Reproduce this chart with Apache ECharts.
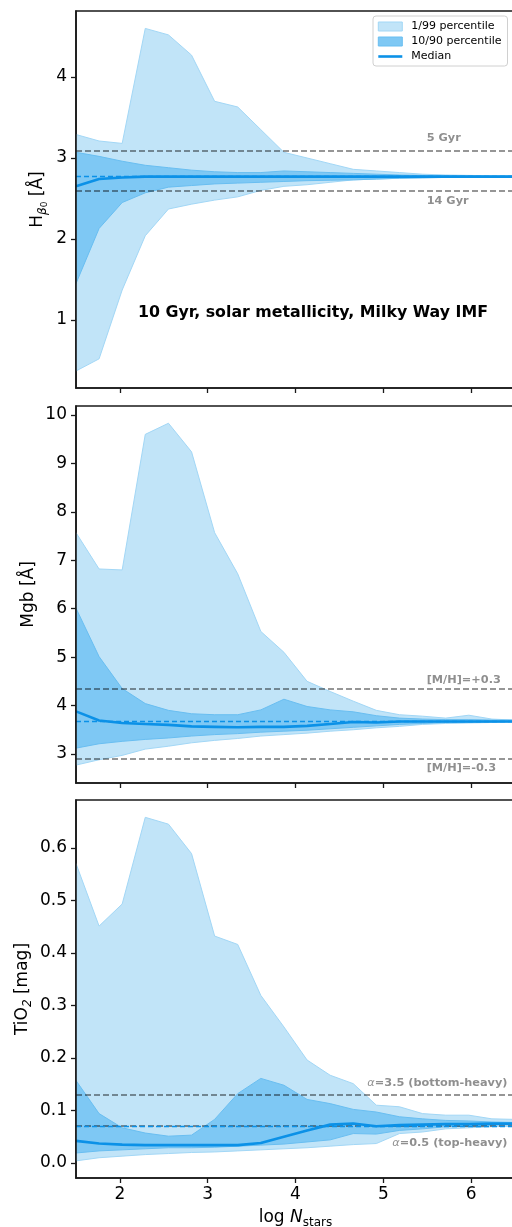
<!DOCTYPE html>
<html>
<head>
<meta charset="utf-8">
<script src="https://cdn.jsdelivr.net/npm/echarts@6/dist/echarts.min.js"></script>
<style>
html,body{margin:0;padding:0;background:#fff;}
#chart{width:512px;height:1227px;}
</style>
</head>
<body>
<div id="chart"></div>
<script>
// Sampling in log N_stars
const logN = [1.500, 1.763, 2.026, 2.289, 2.553, 2.816, 3.079, 3.342, 3.605, 3.868,
              4.132, 4.395, 4.658, 4.921, 5.184, 5.447, 5.711, 5.974, 6.237, 6.500];
const xTicks = [2, 3, 4, 5, 6];

// H-beta_0 index [Angstrom]
const hbP1  = [0.37, 0.52, 1.37, 2.04, 2.37, 2.43, 2.48, 2.52, 2.60, 2.65, 2.67, 2.70, 2.73, 2.74, 2.75, 2.755, 2.76, 2.765, 2.77, 2.77];
const hbP99 = [3.29, 3.21, 3.18, 4.60, 4.52, 4.27, 3.70, 3.63, 3.35, 3.07, 3.00, 2.93, 2.86, 2.84, 2.82, 2.80, 2.79, 2.785, 2.78, 2.78];
const hbP10 = [1.45, 2.13, 2.45, 2.57, 2.64, 2.66, 2.68, 2.69, 2.70, 2.71, 2.72, 2.725, 2.73, 2.74, 2.75, 2.755, 2.76, 2.765, 2.765, 2.77];
const hbP90 = [3.07, 3.02, 2.96, 2.91, 2.88, 2.85, 2.83, 2.82, 2.82, 2.84, 2.83, 2.82, 2.81, 2.80, 2.79, 2.785, 2.78, 2.78, 2.775, 2.775];
const hbMed = [2.65, 2.74, 2.76, 2.77, 2.77, 2.77, 2.77, 2.77, 2.77, 2.77, 2.77, 2.77, 2.77, 2.77, 2.77, 2.77, 2.77, 2.77, 2.77, 2.77];
const hbRef = 2.77;
const hbLines = [3.09, 2.605];
const hbLineLabels = ['5 Gyr', '14 Gyr'];
const hbTicks = [1, 2, 3, 4];

// Mgb index [Angstrom]
const mgbP1  = [2.77, 2.88, 2.97, 3.10, 3.16, 3.23, 3.28, 3.32, 3.37, 3.40, 3.43, 3.47, 3.50, 3.54, 3.57, 3.61, 3.63, 3.64, 3.65, 3.66];
const mgbP99 = [7.57, 6.82, 6.80, 9.60, 9.83, 9.24, 7.57, 6.72, 5.53, 5.10, 4.50, 4.29, 4.09, 3.90, 3.81, 3.78, 3.74, 3.80, 3.72, 3.70];
const mgbP10 = [3.12, 3.21, 3.26, 3.30, 3.33, 3.37, 3.40, 3.42, 3.45, 3.47, 3.49, 3.52, 3.55, 3.58, 3.61, 3.63, 3.65, 3.65, 3.66, 3.67];
const mgbP90 = [6.01, 5.01, 4.35, 4.04, 3.90, 3.83, 3.81, 3.81, 3.91, 4.13, 3.98, 3.91, 3.87, 3.79, 3.74, 3.72, 3.71, 3.71, 3.70, 3.70];
const mgbMed = [3.88, 3.69, 3.64, 3.62, 3.60, 3.57, 3.56, 3.55, 3.56, 3.56, 3.58, 3.62, 3.66, 3.65, 3.67, 3.67, 3.67, 3.67, 3.67, 3.67];
const mgbRef = 3.67;
const mgbLines = [4.34, 2.91];
const mgbLineLabels = ['[M/H]=+0.3', '[M/H]=-0.3'];
const mgbTicks = [3, 4, 5, 6, 7, 8, 9, 10];

// TiO2 index [mag]
const tioP1  = [0.004, 0.010, 0.013, 0.016, 0.018, 0.020, 0.021, 0.023, 0.025, 0.027, 0.029, 0.032, 0.035, 0.037, 0.056, 0.059, 0.065, 0.067, 0.069, 0.070];
const tioP99 = [0.570, 0.451, 0.493, 0.658, 0.645, 0.589, 0.432, 0.416, 0.319, 0.259, 0.196, 0.167, 0.151, 0.110, 0.107, 0.094, 0.091, 0.091, 0.084, 0.083];
const tioP10 = [0.019, 0.023, 0.025, 0.027, 0.029, 0.029, 0.030, 0.032, 0.034, 0.036, 0.040, 0.044, 0.056, 0.055, 0.062, 0.065, 0.069, 0.070, 0.072, 0.073];
const tioP90 = [0.157, 0.094, 0.067, 0.057, 0.051, 0.053, 0.083, 0.132, 0.161, 0.148, 0.121, 0.113, 0.102, 0.097, 0.088, 0.084, 0.081, 0.080, 0.078, 0.077];
const tioMed = [0.042, 0.037, 0.035, 0.034, 0.034, 0.034, 0.034, 0.034, 0.038, 0.050, 0.062, 0.073, 0.075, 0.070, 0.072, 0.073, 0.074, 0.074, 0.075, 0.075];
const tioRef = 0.075;
const tioLines = [0.133, 0.074];
const tioLineLabels = ['{a|α}=3.5 (bottom-heavy)', '{a|α}=0.5 (top-heavy)'];
const tioTicks = [0.0, 0.1, 0.2, 0.3, 0.4, 0.5, 0.6];

const FONT = 'DejaVu Sans';
const FILL_OUT = '#c1e4f8', EDGE_OUT = '#a2d7f6';
const FILL_IN = '#7ec8f4', EDGE_IN = '#69bef1';
const MED = '#0b91e7';
const REF_GRAY = 'rgba(0,0,0,0.55)';
const AXIS = '#1a1a1a';

const panels = [
  {
    lo1: hbP1, hi1: hbP99, lo10: hbP10, hi10: hbP90, med: hbMed, ref: hbRef,
    lines: hbLines, lineLabels: hbLineLabels, ticks: hbTicks,
    top: 11, height: 377, min: 0.16, max: 4.815,
    name: '{n|H}{s|β}{ss|0}{n| [Å]}', nameGap: 27,
    names: ['1/99 percentile', '10/90 percentile', 'Median'],
    labelX: 5.5, labelAlign: 'left', labelOffsets: [-12, 12], fmt: v => String(v)
  },
  {
    lo1: mgbP1, hi1: mgbP99, lo10: mgbP10, hi10: mgbP90, med: mgbMed, ref: mgbRef,
    lines: mgbLines, lineLabels: mgbLineLabels, ticks: mgbTicks,
    top: 406, height: 377, min: 2.40, max: 10.186,
    name: '{n|Mgb [Å]}', nameGap: 36,
    names: ['Mgb 1/99', 'Mgb 10/90', 'Mgb median'],
    labelX: 5.5, labelAlign: 'left', labelOffsets: [-8.5, 10.5], fmt: v => String(v)
  },
  {
    lo1: tioP1, hi1: tioP99, lo10: tioP10, hi10: tioP90, med: tioMed, ref: tioRef,
    lines: tioLines, lineLabels: tioLineLabels, ticks: tioTicks,
    top: 800, height: 378, min: -0.0286, max: 0.691,
    name: '{n|TiO}{s|2}{n| [mag]}', nameGap: 42,
    names: ['TiO2 1/99', 'TiO2 10/90', 'TiO2 median'],
    labelX: 6.42, labelAlign: 'right', labelOffsets: [-9.5, 19.5], fmt: v => v.toFixed(1)
  }
];

const pairs = arr => arr.map((v, k) => [logN[k], v]);

// A filled band between two percentile curves, drawn as one polygon in data space
function bandSeries(i, name, lo, hi, fill, edge, z) {
  const rows = logN.map((x, k) => [x, lo[k], hi[k]]);
  return {
    type: 'custom', name: name, xAxisIndex: i, yAxisIndex: i, z: z, silent: true,
    color: fill, clip: true,
    data: rows,
    encode: { x: 0, y: [1, 2] },
    renderItem: function (params, api) {
      if (params.dataIndex !== 0) return null;
      const upper = rows.map(r => api.coord([r[0], r[2]]));
      const lower = rows.map(r => api.coord([r[0], r[1]])).reverse();
      return {
        type: 'polygon',
        shape: { points: upper.concat(lower) },
        style: { fill: fill, stroke: edge, lineWidth: 1 }
      };
    }
  };
}

const nameRich = {
  n: { fontFamily: FONT, fontSize: 17, color: '#000', lineHeight: 22, verticalAlign: 'middle' },
  s: { fontFamily: FONT, fontSize: 12, color: '#000', fontStyle: 'italic', lineHeight: 12, verticalAlign: 'bottom' },
  ss: { fontFamily: FONT, fontSize: 9, color: '#000', lineHeight: 6, verticalAlign: 'bottom' }
};

const grids = [], xAxes = [], yAxes = [], series = [];

panels.forEach((p, i) => {
  grids.push({
    left: 76, right: -3, top: p.top, height: p.height,
    show: true, borderColor: AXIS, borderWidth: 1.6, backgroundColor: 'transparent',
    containLabel: false, outerBoundsMode: 'none'
  });
  xAxes.push({
    type: 'value', gridIndex: i, min: 1.5, max: 6.5, z: 10,
    axisLine: { show: true, onZero: false, lineStyle: { color: AXIS, width: 1.6 } },
    axisTick: { show: true, customValues: xTicks, length: 5, lineStyle: { color: AXIS, width: 1.3 } },
    axisLabel: {
      show: i === 2, customValues: xTicks, margin: 8,
      fontFamily: FONT, fontSize: 17, color: '#000'
    },
    splitLine: { show: false },
    name: i === 2 ? '{n|log }{i|N}{s|stars}' : '',
    nameLocation: 'middle', nameGap: 29,
    nameTextStyle: {
      rich: {
        n: { fontFamily: FONT, fontSize: 17, color: '#000', lineHeight: 22, verticalAlign: 'middle' },
        i: { fontFamily: FONT, fontSize: 17, color: '#000', fontStyle: 'italic', lineHeight: 22, verticalAlign: 'middle' },
        s: { fontFamily: FONT, fontSize: 12, color: '#000', lineHeight: 12, verticalAlign: 'bottom' }
      }
    }
  });
  yAxes.push({
    type: 'value', gridIndex: i, min: p.min, max: p.max, z: 10,
    axisLine: { show: true, onZero: false, lineStyle: { color: AXIS, width: 1.6 } },
    axisTick: { show: true, customValues: p.ticks, length: 5, lineStyle: { color: AXIS, width: 1.3 } },
    axisLabel: {
      show: true, customValues: p.ticks, margin: 9, formatter: p.fmt,
      fontFamily: FONT, fontSize: 17, color: '#000'
    },
    splitLine: { show: false },
    name: p.name, nameLocation: 'middle', nameGap: p.nameGap, nameRotate: 90,
    nameMoveOverlap: false,
    nameTextStyle: { rich: nameRich }
  });

  // 1/99 and 10/90 percentile bands
  series.push(bandSeries(i, p.names[0], p.lo1, p.hi1, FILL_OUT, EDGE_OUT, 2));
  series.push(bandSeries(i, p.names[1], p.lo10, p.hi10, FILL_IN, EDGE_IN, 3));

  // Reference lines: comparison models (gray) and the input model (blue)
  series.push({
    type: 'line', xAxisIndex: i, yAxisIndex: i, name: 'ref_' + i, data: [], z: 4,
    markLine: {
      silent: true, symbol: 'none', animation: false,
      label: { show: false },
      data: p.lines.map(v => ({ yAxis: v, lineStyle: { color: REF_GRAY, width: 1.5, type: [6, 3] } }))
        .concat([{ yAxis: p.ref, lineStyle: { color: MED, width: 1.3, type: [5, 3] } }])
    }
  });
  // Median
  series.push({
    type: 'line', xAxisIndex: i, yAxisIndex: i, name: p.names[2],
    data: pairs(p.med), symbol: 'none', z: 5, color: MED,
    lineStyle: { color: MED, width: 2.6 }
  });
  // Labels of the reference lines
  series.push({
    type: 'scatter', xAxisIndex: i, yAxisIndex: i, name: 'lab_' + i, silent: true, z: 6,
    symbol: 'circle', symbolSize: 1, itemStyle: { color: 'rgba(0,0,0,0)' },
    data: p.lines.map((v, k) => ({
      value: [p.labelX, v], name: p.lineLabels[k],
      label: { offset: [0, p.labelOffsets[k]] }
    })),
    label: {
      show: true, position: [0, 0], align: p.labelAlign, verticalAlign: 'middle',
      formatter: d => d.name,
      fontFamily: FONT, fontSize: 11.3, fontWeight: 'bold', color: '#737373',
      rich: { a: { fontFamily: FONT, fontSize: 11.3, fontStyle: 'italic', fontWeight: 'normal', color: '#737373' } }
    }
  });
});

const chart = echarts.init(document.getElementById('chart'), null, { renderer: 'canvas' });
chart.setOption({
  animation: false,
  backgroundColor: '#fff',
  textStyle: { fontFamily: FONT },
  grid: grids,
  xAxis: xAxes,
  yAxis: yAxes,
  legend: {
    orient: 'vertical', left: 373, top: 16,
    padding: [5, 6, 4, 4], itemGap: 4, itemWidth: 24, itemHeight: 9,
    backgroundColor: 'rgba(255,255,255,0.85)', borderColor: '#d0d0d0', borderWidth: 1, borderRadius: 3,
    selectedMode: false,
    textStyle: { fontFamily: FONT, fontSize: 11, color: '#000', padding: [0, 0, 0, 4] },
    data: [
      { name: '1/99 percentile', icon: 'rect', itemStyle: { color: FILL_OUT, borderColor: EDGE_OUT, borderWidth: 1 } },
      { name: '10/90 percentile', icon: 'rect', itemStyle: { color: FILL_IN, borderColor: EDGE_IN, borderWidth: 1 } },
      { name: 'Median', itemStyle: { color: 'rgba(0,0,0,0)', borderWidth: 0, opacity: 0 }, lineStyle: { color: MED, width: 2.6 } }
    ]
  },
  graphic: [{
    type: 'text', left: 138, top: 305, z: 20, silent: true,
    style: { text: '10 Gyr, solar metallicity, Milky Way IMF', font: 'bold 15.8px "DejaVu Sans"', fill: '#000' }
  }],
  series: series
});
</script>
</body>
</html>
